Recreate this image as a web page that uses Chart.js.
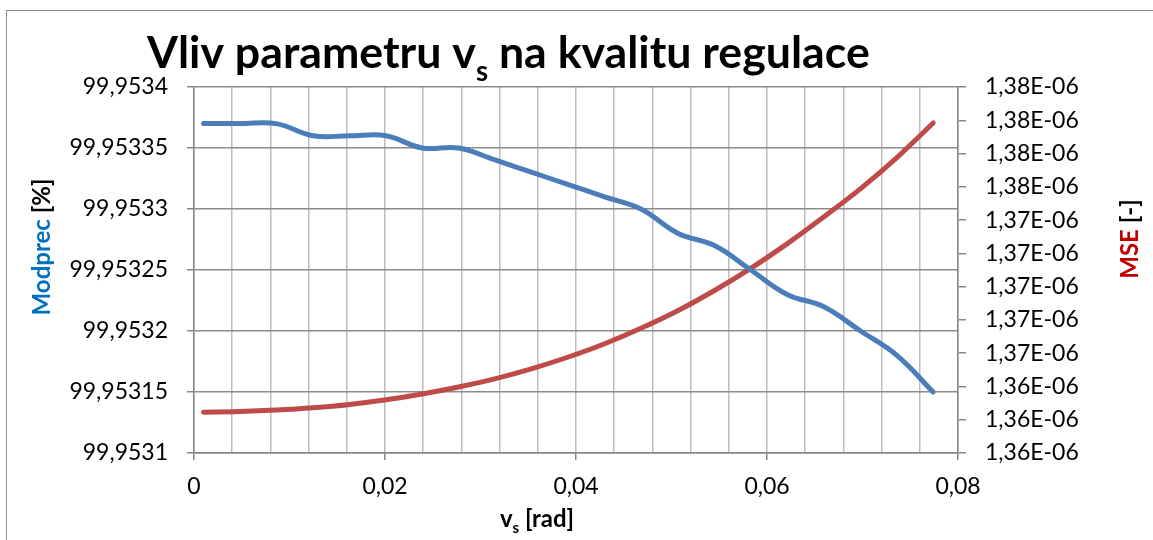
<!DOCTYPE html>
<html>
<head>
<meta charset="utf-8">
<script src="https://cdn.jsdelivr.net/npm/chart.js@4/dist/chart.umd.min.js"></script>
<style>
  html, body { margin: 0; padding: 0; background: #fff; }
  canvas { display: block; }
</style>
</head>
<body>
<canvas id="vsChart" width="1153" height="540"></canvas>
<script>
/* ---------- data ---------- */
const VS_RAD = [0.001, 0.0048, 0.0086, 0.0125, 0.0163, 0.0201, 0.0239, 0.0277, 0.0316, 0.0354,
                0.0392, 0.043, 0.0468, 0.0507, 0.0545, 0.0583, 0.0621, 0.0659, 0.0698, 0.0736, 0.0774];

const MODPREC = [99.95337, 99.95337, 99.95337, 99.95336, 99.95336, 99.95336, 99.95335, 99.95335,
                 99.95334, 99.95333, 99.95332, 99.95331, 99.95330, 99.95328, 99.95327, 99.95325,
                 99.95323, 99.95322, 99.95320, 99.95318, 99.95315];

const MSE = [1.36245e-6, 1.36249e-6, 1.36258e-6, 1.36272e-6, 1.36292e-6, 1.36320e-6, 1.36355e-6,
             1.36397e-6, 1.36447e-6, 1.36507e-6, 1.36577e-6, 1.36657e-6, 1.36750e-6, 1.36857e-6,
             1.36977e-6, 1.37110e-6, 1.37257e-6, 1.37417e-6, 1.37589e-6, 1.37776e-6, 1.37984e-6];

/* ---------- ticks ---------- */
const X_TICKS = [0, 0.004, 0.008, 0.012, 0.016, 0.02, 0.024, 0.028, 0.032, 0.036, 0.04,
                 0.044, 0.048, 0.052, 0.056, 0.06, 0.064, 0.068, 0.072, 0.076, 0.08];
const X_LABELS = ['0', '', '', '', '', '0,02', '', '', '', '', '0,04',
                  '', '', '', '', '0,06', '', '', '', '', '0,08'];

const LEFT_TICKS  = [99.9531, 99.95315, 99.9532, 99.95325, 99.9533, 99.95335, 99.9534];
const LEFT_LABELS = ['99,9531', '99,95315', '99,9532', '99,95325', '99,9533', '99,95335', '99,9534'];

const RIGHT_TICKS = [1.360e-6, 1.362e-6, 1.364e-6, 1.366e-6, 1.368e-6, 1.370e-6,
                     1.372e-6, 1.374e-6, 1.376e-6, 1.378e-6, 1.380e-6, 1.382e-6];
const RIGHT_LABELS = ['1,36E-06', '1,36E-06', '1,36E-06', '1,37E-06', '1,37E-06', '1,37E-06',
                      '1,37E-06', '1,37E-06', '1,38E-06', '1,38E-06', '1,38E-06', '1,38E-06'];

/* ---------- colours ---------- */
const COLORS = {
  modprec : '#4a7ebb',
  mse     : '#be4b48',
  hGrid   : '#8c8c8c',
  vGrid   : '#bdbdbd',
  axis    : '#868686',
  blueTxt : '#0070c0',
  redTxt  : '#c00000'
};

const FONT = 'Lato';
Chart.defaults.font.family = FONT;
Chart.defaults.color = '#000';

/* ---------- tiny utils ---------- */
const fixTicks = values => scale => { scale.ticks = values.map(v => ({ value: v })); };
const labelOf  = labels => (v, i) => labels[i] ?? '';

// draw a row of text runs (some subscripted) centred or left-aligned at x
const drawRuns = (ctx, runs, x, y, align) => {
  let w = 0;
  runs.forEach(r => { ctx.font = r.font; r.w = ctx.measureText(r.text).width; w += r.w; });
  let cx = align === 'center' ? x - w / 2 : x;
  ctx.textAlign = 'left';
  runs.forEach(r => {
    ctx.font = r.font;
    ctx.fillStyle = r.color || '#000';
    ctx.fillText(r.text, cx, y + (r.dy || 0));
    cx += r.w;
  });
};

/* ---------- custom texts: title with subscript, axis titles ---------- */
const excelTexts = {
  id: 'excelTexts',
  beforeDraw (chart) {
    const ctx = chart.ctx;
    ctx.save();
    ctx.strokeStyle = '#8c8c8c';
    ctx.lineWidth = 1;
    ctx.strokeRect(6.5, 10.5, 1200, 600);
    ctx.restore();
  },
  afterDraw (chart) {
    const ctx = chart.ctx;
    ctx.save();
    ctx.textBaseline = 'alphabetic';

    /* title – fit to the reference width */
    const titleRuns = size => [
      { text: 'Vliv parametru v', font: `bold ${size}px ${FONT}` },
      { text: 's', font: `bold ${size * 0.62}px ${FONT}`, dy: size * 0.3 },
      { text: ' na kvalitu regulace', font: `bold ${size}px ${FONT}` }
    ];
    let tw = 0;
    titleRuns(46).forEach(r => { ctx.font = r.font; tw += ctx.measureText(r.text).width; });
    const tSize = 46 * 723 / tw;
    drawRuns(ctx, titleRuns(tSize), 147, 68, 'left');

    /* x axis title */
    drawRuns(ctx, [
      { text: 'v', font: `bold 24px ${FONT}` },
      { text: 's', font: `bold 15px ${FONT}`, dy: 6 },
      { text: ' [rad]', font: `bold 24px ${FONT}` }
    ], 537, 527, 'center');

    /* left axis title */
    ctx.save();
    ctx.translate(42.5, 247);
    ctx.rotate(-Math.PI / 2);
    ctx.textBaseline = 'middle';
    drawRuns(ctx, [
      { text: 'Modprec ', font: `bold 24px ${FONT}`, color: COLORS.blueTxt },
      { text: '[%]', font: `bold 24px ${FONT}` }
    ], 0, 0, 'center');
    ctx.restore();

    /* right axis title */
    ctx.save();
    ctx.translate(1130, 239);
    ctx.rotate(-Math.PI / 2);
    ctx.textBaseline = 'middle';
    drawRuns(ctx, [
      { text: 'MSE ', font: `bold 24px ${FONT}`, color: COLORS.redTxt },
      { text: '[-]', font: `bold 24px ${FONT}` }
    ], 0, 0, 'center');
    ctx.restore();

    ctx.restore();
  }
};

/* ---------- chart ---------- */
const toPoints = ys => VS_RAD.map((x, i) => ({ x, y: ys[i] }));

new Chart(document.getElementById('vsChart'), {
  type: 'line',
  data: {
    datasets: [
      { label: 'Modprec', data: toPoints(MODPREC), yAxisID: 'y',
        borderColor: COLORS.modprec, borderWidth: 5, pointRadius: 0,
        tension: 0.4, borderCapStyle: 'round', fill: false },
      { label: 'MSE', data: toPoints(MSE), yAxisID: 'y1',
        borderColor: COLORS.mse, borderWidth: 5, pointRadius: 0,
        tension: 0.4, borderCapStyle: 'round', fill: false }
    ]
  },
  options: {
    responsive: false,
    animation: false,
    layout: { padding: { top: 87, left: 0, right: 0, bottom: 0 } },
    plugins: { legend: { display: false }, title: { display: false }, tooltip: { enabled: false } },
    scales: {
      x: {
        type: 'linear', min: X_TICKS[0], max: X_TICKS[X_TICKS.length - 1],
        afterBuildTicks: fixTicks(X_TICKS),
        afterFit: s => { s.height = 87; },
        ticks: {
          autoSkip: false, maxRotation: 0, padding: 13,
          font: { size: 23 },
          callback: labelOf(X_LABELS)
        },
        grid: {
          color: COLORS.vGrid, lineWidth: 1.5, tickLength: 7,
          tickColor: c => X_LABELS[c.index] ? COLORS.axis : 'rgba(0,0,0,0)'
        },
        border: { color: COLORS.axis, width: 1.5 }
      },
      y: {
        position: 'left', min: LEFT_TICKS[0], max: LEFT_TICKS[LEFT_TICKS.length - 1],
        afterBuildTicks: fixTicks(LEFT_TICKS),
        afterFit: s => { s.width = 194; },
        ticks: { autoSkip: false, padding: 19, font: { size: 23 }, callback: labelOf(LEFT_LABELS) },
        grid: { color: COLORS.hGrid, lineWidth: 1.5, tickLength: 7, tickColor: COLORS.axis },
        border: { color: COLORS.axis, width: 1.5 }
      },
      y1: {
        position: 'right', min: RIGHT_TICKS[0], max: RIGHT_TICKS[RIGHT_TICKS.length - 1],
        afterBuildTicks: fixTicks(RIGHT_TICKS),
        afterFit: s => { s.width = 195; },
        ticks: { autoSkip: false, padding: 19, font: { size: 23 }, callback: labelOf(RIGHT_LABELS) },
        grid: { drawOnChartArea: false, tickLength: 8, tickColor: COLORS.axis, lineWidth: 1.5 },
        border: { color: COLORS.axis, width: 1.5 }
      }
    }
  },
  plugins: [excelTexts]
});
</script>
</body>
</html>
